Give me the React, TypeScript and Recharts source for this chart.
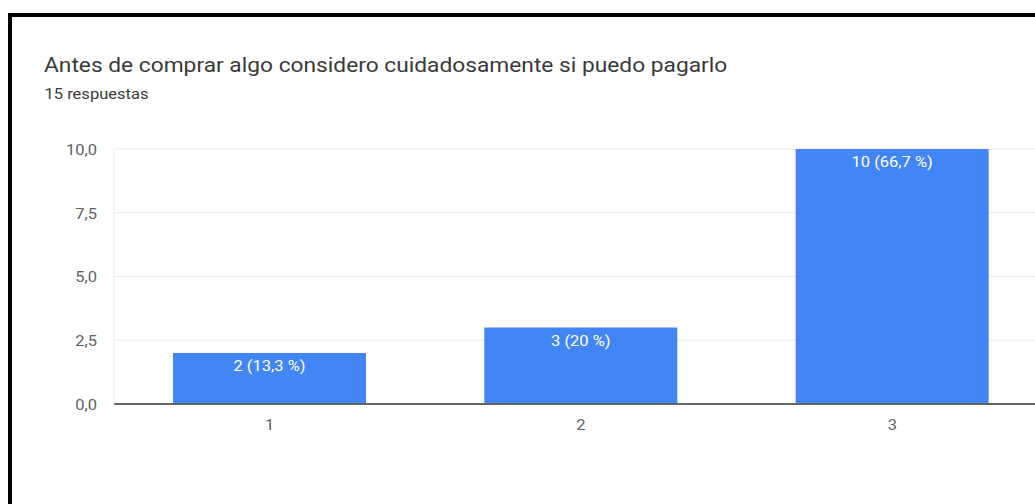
import React from 'react';
import { BarChart, Bar, XAxis, YAxis, CartesianGrid, LabelList } from 'recharts';

const title = 'Antes de comprar algo considero cuidadosamente si puedo pagarlo';
const subtitle = '15 respuestas';
const categories = ['1', '2', '3'];
const counts = [2, 3, 10];
const barLabels = ['2 (13,3 %)', '3 (20 %)', '10 (66,7 %)'];
const yTicks = [0, 2.5, 5, 7.5, 10];

const data = categories.map((c, i) => ({ cat: c, value: counts[i], label: barLabels[i] }));

const fmt = (v: number) => v.toFixed(1).replace('.', ',');
const FONT = 'Roboto, sans-serif';
const SX = 1.14;
const SMALL = 14.5;

const YTick = (props: any) => {
  const { x, y, payload } = props;
  return (
    <g transform={`translate(${x},${y})`}>
      <text x={0} y={0} dy="0.4em" textAnchor="end" transform={`scale(${SX},1)`} fill="#616161" fontSize={SMALL} fontFamily={FONT}>
        {fmt(payload.value)}
      </text>
    </g>
  );
};

const XTick = (props: any) => {
  const { x, y, payload } = props;
  return (
    <g transform={`translate(${x},${y})`}>
      <text x={0} y={0} dy="0.71em" textAnchor="middle" transform={`scale(${SX},1)`} fill="#616161" fontSize={SMALL} fontFamily={FONT}>
        {payload.value}
      </text>
    </g>
  );
};

const BarLabel = (props: any) => {
  const { x, y, width, value } = props;
  return (
    <g transform={`translate(${Number(x) + Number(width) / 2},${Number(y) + 8})`}>
      <text x={0} y={0} dy="0.71em" textAnchor="middle" transform={`scale(${SX},1)`} fill="#fff" fontSize={SMALL} fontFamily={FONT}>
        {value}
      </text>
    </g>
  );
};

export default function App() {
  return (
    <div style={{ position: 'relative', width: 1035, height: 504, overflow: 'hidden', background: '#fff' }}>
      <style>{`html,body{margin:0;padding:0;overflow:hidden;}`}</style>
      <div
        style={{
          position: 'absolute',
          left: 8,
          top: 13,
          width: 1200,
          height: 700,
          boxSizing: 'border-box',
          border: '4px solid #000',
        }}
      />
      <svg width={1035} height={120} style={{ position: 'absolute', left: 0, top: 0 }}>
        <text transform={`translate(44,71.7) scale(1.138,1)`} fontSize={20} fill="#3a3a3a" fontFamily={FONT}>
          {title}
        </text>
        <text transform={`translate(44.5,99.3) scale(${SX},1)`} fontSize={SMALL} fill="#3a3a3a" fontFamily={FONT}>
          {subtitle}
        </text>
      </svg>
      <div style={{ position: 'absolute', left: 12, top: 130 }}>
        <BarChart width={1036} height={304} data={data} margin={{ top: 19, right: 0, bottom: 0, left: 0 }} barSize={193}>
          <CartesianGrid vertical={false} stroke="#ebebeb" />
          <XAxis
            dataKey="cat"
            height={30}
            tickLine={false}
            tickSize={6}
            tickMargin={10}
            axisLine={{ stroke: '#666', strokeWidth: 2 }}
            tick={<XTick />}
          />
          <YAxis
            width={102}
            domain={[0, 10]}
            ticks={yTicks}
            tickFormatter={fmt}
            tickLine={false}
            tickSize={6}
            tickMargin={11}
            axisLine={{ stroke: '#ebebeb' }}
            tick={<YTick />}
          />
          <Bar dataKey="value" fill="#4285f4" isAnimationActive={false}>
            <LabelList dataKey="label" content={<BarLabel />} />
          </Bar>
        </BarChart>
      </div>
    </div>
  );
}
